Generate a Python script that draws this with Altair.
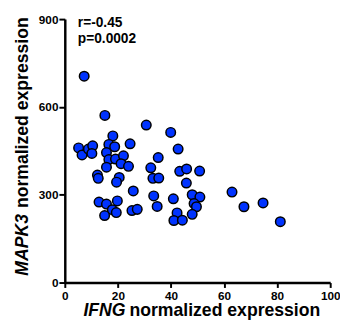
import altair as alt
import pandas as pd

ifng = [5.2, 6.5, 8.9, 10.5, 10.2, 7.3, 15.1, 30.7, 39.9, 18.1,
        16.6, 18.8, 15.7, 16.6, 19.1, 22.1, 24.6, 21.2, 24.0, 15.7,
        12.3, 12.6, 20.5, 19.5, 35.2, 32.4, 33.2, 35.4, 42.7, 43.3,
        45.9, 50.8, 45.8, 25.8, 33.5, 34.8, 40.9, 48.0, 50.9, 48.7,
        49.6, 42.3, 41.1, 44.3, 48.0, 63.0, 67.5, 74.7, 81.2, 12.9,
        15.7, 19.8, 17.9, 15.0, 19.4, 25.3, 27.3]
mapk3 = [460, 436, 456, 467, 441, 705, 571, 538, 513, 501,
         472, 464, 444, 420, 422, 433, 474, 406, 397, 394,
         367, 356, 359, 343, 427, 392, 356, 357, 456, 380,
         388, 381, 340, 313, 296, 260, 286, 300, 292, 270,
         259, 238, 212, 213, 233, 309, 259, 272, 208, 275,
         268, 279, 249, 229, 239, 246, 250]
x_ticks = [0, 20, 40, 60, 80, 100]
y_ticks = [0, 300, 600, 900]
stats = ["r=-0.45", "p=0.0002"]

FONT = "Liberation Sans"
df = pd.DataFrame({"ifng": ifng, "mapk3": mapk3})

points = alt.Chart(df).mark_circle(
    size=95, color="#0033ff", stroke="black", strokeWidth=1.5, opacity=1
).encode(
    x=alt.X("ifng:Q", scale=alt.Scale(domain=[0, 100], nice=False),
            axis=alt.Axis(values=x_ticks, title=None, tickSize=5, labelPadding=3,
                          labelFlush=False, labelAngle=0)),
    y=alt.Y("mapk3:Q", scale=alt.Scale(domain=[0, 900], nice=False),
            axis=alt.Axis(values=y_ticks, title=None, tickSize=6, labelPadding=1,
                          labelFlush=False)),
)

def txt(t, x, y, size, italic=False, angle=0):
    kw = dict(align="left", baseline="alphabetic", font=FONT, fontWeight="bold",
              fontSize=size, color="black")
    if italic:
        kw["fontStyle"] = "italic"
    if angle:
        kw["angle"] = angle
    return alt.Chart(pd.DataFrame({"t": [t]})).mark_text(**kw).encode(
        text="t:N", x=alt.value(x), y=alt.value(y))

layers = [
    points,
    txt(stats[0], 13.3, 8.5, 14),
    txt(stats[1], 13.3, 24, 14),
    txt("IFNG", 19, 303.5, 18, italic=True),
    txt("normalized expression", 66, 303.5, 18),
    txt("MAPK3", -37.7, 262, 18, italic=True, angle=270),
    txt("normalized expression", -37.7, 193, 18, angle=270),
]

chart = alt.layer(*layers).properties(
    width=271, height=269,
    autosize=alt.AutoSizeParams(type="none"),
    padding={"left": 58, "top": 8, "right": 10, "bottom": 40},
).configure_view(stroke=None).configure_axis(
    grid=False, domainColor="black", domainWidth=2.5, tickColor="black",
    tickWidth=2, labelFont=FONT, labelFontWeight="bold", labelFontSize=12,
    labelColor="black",
)

chart.save("out.html", embed_options={"renderer": "svg", "actions": False})
